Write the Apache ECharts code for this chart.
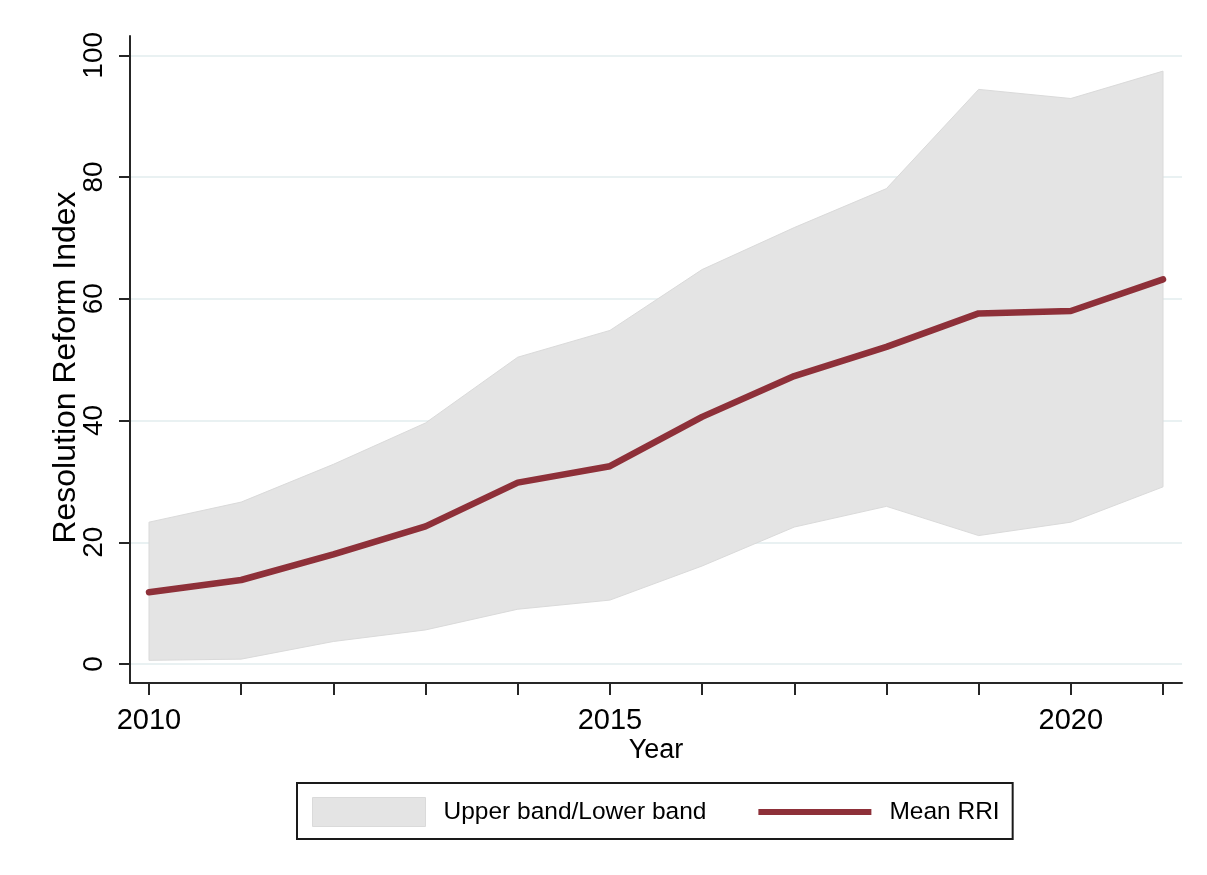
<!DOCTYPE html>
<html>
<head>
<meta charset="utf-8">
<title>Resolution Reform Index</title>
<script src="https://cdn.jsdelivr.net/npm/echarts@6/dist/echarts.min.js"></script>
<style>
  html, body { margin: 0; padding: 0; background: #fff; }
  #chart { width: 1207px; height: 875px; }
</style>
</head>
<body>
<div id="chart"></div>
<script>
const years = [2010, 2011, 2012, 2013, 2014, 2015, 2016, 2017, 2018, 2019, 2020, 2021]
const meanRRI = [11.8, 13.8, 18.0, 22.6, 29.8, 32.5, 40.6, 47.3, 52.1, 57.6, 58.0, 63.2]
const upperBand = [23.3, 26.6, 32.8, 39.6, 50.4, 54.8, 64.8, 71.7, 78.1, 94.4, 92.9, 97.4]
const lowerBand = [0.6, 0.8, 3.7, 5.6, 9.0, 10.5, 16.1, 22.5, 25.9, 21.1, 23.3, 29.1]

const yTicks = [0, 20, 40, 60, 80, 100]
const xLabelYears = [2010, 2015, 2020]

const font = '"Liberation Sans", Arial, sans-serif'
const colors = {
  axis: '#262626',
  text: '#000000',
  grid: '#e9f1f2',
  band: '#e4e4e4',
  bandEdge: '#dadada',
  mean: '#8e3039',
}

const chart = echarts.init(document.getElementById('chart'))

// band polygon: upper edge left->right, then lower edge right->left
function renderBand(params, api) {
  const pts = []
  years.forEach((y, i) => pts.push(api.coord([y, upperBand[i]])))
  for (let i = years.length - 1; i >= 0; i--) pts.push(api.coord([years[i], lowerBand[i]]))
  return {
    type: 'polygon',
    shape: { points: pts },
    style: { fill: colors.band, stroke: colors.bandEdge, lineWidth: 1 },
  }
}

const option = {
  backgroundColor: '#ffffff',
  animation: false,
  textStyle: { fontFamily: font },
  grid: { left: 130, right: 25, top: 36, bottom: 192, containLabel: false },
  legend: {
    left: 297,
    top: 783,
    orient: 'horizontal',
    padding: [14, 13, 12, 15],
    borderColor: '#1a1a1a',
    borderWidth: 2,
    itemWidth: 113,
    itemHeight: 29,
    itemGap: 52,
    selectedMode: false,
    textStyle: { fontSize: 24.5, color: colors.text, fontFamily: font, padding: [0, 0, 0, 13] },
    data: [
      {
        name: 'Upper band/Lower band',
        icon: 'rect',
        itemStyle: { color: colors.band, borderColor: colors.bandEdge, borderWidth: 1 },
      },
      {
        name: 'Mean RRI',
        icon: 'path://M0,0 L113,0 L113,6 L0,6 Z',
        itemStyle: { color: colors.mean },
      },
    ],
  },
  xAxis: {
    type: 'value',
    min: 2009.794,
    max: 2021.206,
    name: 'Year',
    nameLocation: 'middle',
    nameGap: 54,
    nameMoveOverlap: false,
    nameTextStyle: { fontSize: 27, color: colors.text, fontFamily: font },
    axisLine: { show: true, onZero: false, lineStyle: { color: colors.axis, width: 2 } },
    axisTick: {
      show: true,
      inside: false,
      length: 12,
      customValues: years,
      lineStyle: { color: colors.axis, width: 2 },
    },
    axisLabel: {
      customValues: xLabelYears,
      fontSize: 29,
      color: colors.text,
      margin: 23,
      formatter: (v) => String(v),
    },
    splitLine: { show: false },
  },
  yAxis: {
    type: 'value',
    min: -3.12,
    max: 103.17,
    name: 'Resolution Reform Index',
    nameLocation: 'middle',
    nameRotate: 90,
    nameGap: 48,
    nameMoveOverlap: false,
    nameTextStyle: { fontSize: 32, color: colors.text, fontFamily: font, padding: [0, 16, 0, 0] },
    axisLine: { show: true, onZero: false, lineStyle: { color: colors.axis, width: 2 } },
    axisTick: {
      show: true,
      inside: false,
      length: 11,
      customValues: yTicks,
      lineStyle: { color: colors.axis, width: 2 },
    },
    axisLabel: {
      customValues: yTicks,
      rotate: 90,
      fontSize: 28,
      color: colors.text,
      margin: 22,
    },
    splitLine: {
      show: true,
      customValues: yTicks,
      lineStyle: { color: colors.grid, width: 2 },
    },
  },
  series: [
    {
      name: 'Upper band/Lower band',
      type: 'custom',
      renderItem: renderBand,
      data: [[years[0], upperBand[0]]],
      itemStyle: { color: colors.band },
      silent: true,
      z: 1,
    },
    {
      name: 'Mean RRI',
      type: 'line',
      data: years.map((y, i) => [y, meanRRI[i]]),
      symbol: 'none',
      itemStyle: { color: colors.mean },
      lineStyle: { color: colors.mean, width: 6.5, cap: 'round', join: 'round' },
      z: 3,
    },
  ],
}

chart.setOption(option)
</script>
</body>
</html>
